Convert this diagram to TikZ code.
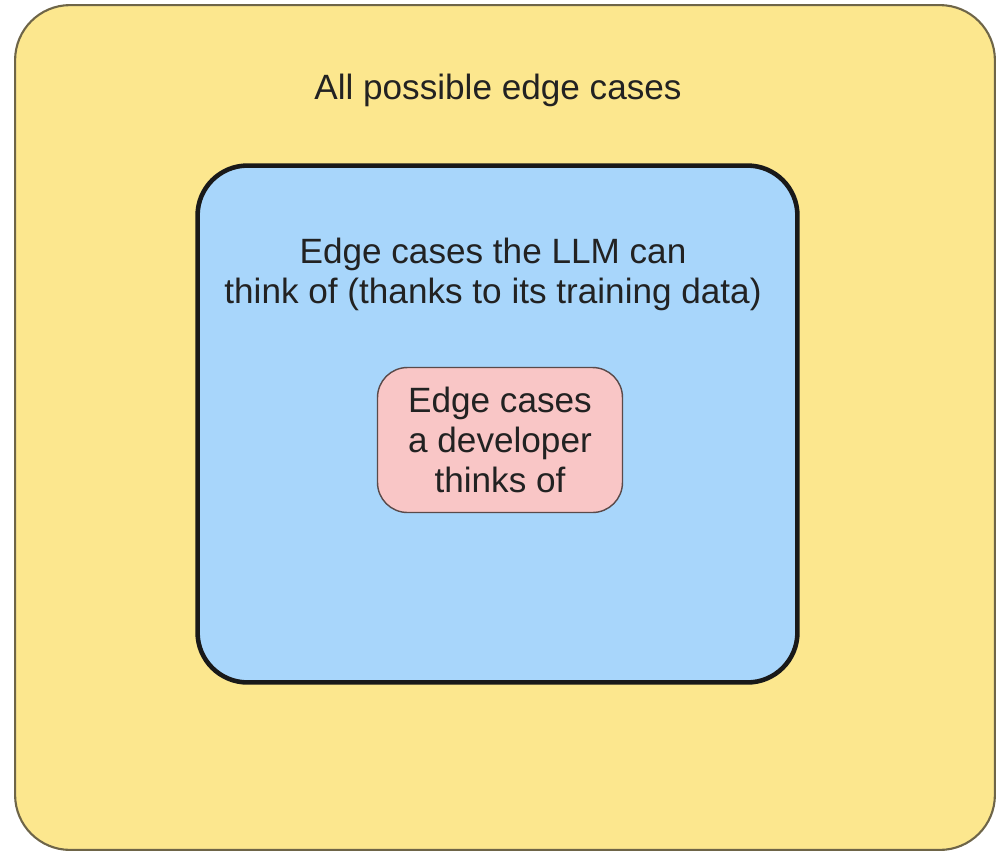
\documentclass[tikz,border=0pt]{standalone}
\usepackage{fontspec}
\setmainfont{Liberation Sans}
\usepackage{xcolor}
\usetikzlibrary{positioning}
\definecolor{allFill}{HTML}{FCE78E}
\definecolor{allLine}{HTML}{6E6548}
\definecolor{llmFill}{HTML}{A8D6FB}
\definecolor{devFill}{HTML}{F9C6C6}
\definecolor{devLine}{HTML}{5A4A4A}
\definecolor{txt}{HTML}{222222}

\begin{document}
\begin{tikzpicture}[x=0.02cm, y=-0.02cm,
  setbox/.style={rectangle,inner sep=0pt,outer sep=0pt},
  lbl/.style={text=txt,align=center,inner sep=0pt,font=\fontsize{20}{22.8}\selectfont}]
  \useasboundingbox (0,0) rectangle (1002,853);
  % nested sets
  \node[setbox,draw=allLine,fill=allFill,line width=1.2pt,rounded corners=1.1cm,
    minimum width=19.6cm,minimum height=16.9cm] (all) at (505,427.5) {};
  \node[setbox,draw=black!90,fill=llmFill,line width=2.6pt,rounded corners=1.0cm,
    minimum width=12.0cm,minimum height=10.34cm] (llm) at (497.5,424) {};
  \node[setbox,draw=devLine,fill=devFill,line width=0.8pt,rounded corners=0.6cm,
    minimum width=4.9cm,minimum height=2.9cm] (dev) at (500,440) {};
  % labels
  \node[lbl] (allLbl) at (498,90) {All possible edge cases};
  \node[lbl] (llmLbl) at (493,274) {Edge cases the LLM can\\think of (thanks to its training data)};
  \node[lbl] (devLbl) at (dev.center) {Edge cases\\a developer\\thinks of};
\end{tikzpicture}
\end{document}
